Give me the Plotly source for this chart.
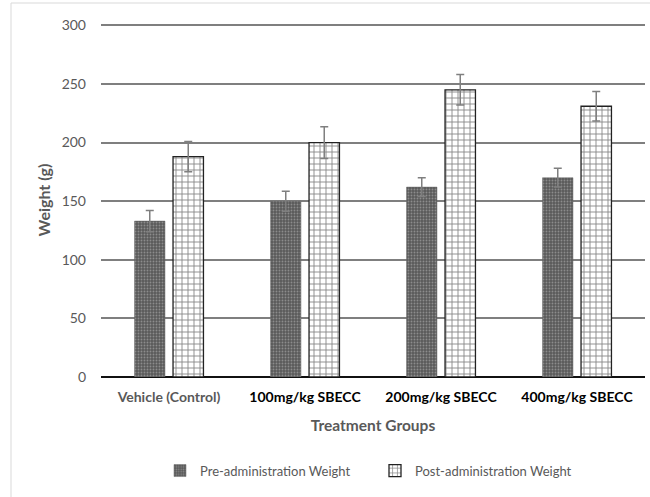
import plotly.graph_objects as go

categories = ["Vehicle (Control)", "100mg/kg SBECC", "200mg/kg SBECC", "400mg/kg SBECC"]
tick_labels = ["<span style='color:#595959'>Vehicle (Control)</span>", "100mg/kg SBECC", "200mg/kg SBECC", "400mg/kg SBECC"]
pre_weight = [133, 150, 162, 170]
pre_err = [9, 8.5, 8, 8]
post_weight = [188, 200, 245, 231]
post_err = [13, 13.5, 13, 12.5]
y_ticks = [0, 50, 100, 150, 200, 250, 300]

FONT = "Lato, Carlito, 'Liberation Sans', sans-serif"

fig = go.Figure()
fig.add_trace(go.Bar(
    name="Pre-administration Weight", x=categories, y=pre_weight,
    error_y=dict(type="data", array=pre_err, color="#7f7f7f", thickness=1.5, width=4),
    marker=dict(color="#666666", line=dict(color="#666666", width=0.5),
                pattern=dict(shape=".", fgcolor="#bdbdbd", bgcolor="#5a5a5a", size=3, solidity=0.3)),
))
fig.add_trace(go.Bar(
    name="Post-administration Weight", x=categories, y=post_weight,
    error_y=dict(type="data", array=post_err, color="#7f7f7f", thickness=1.5, width=4),
    marker=dict(color="white", line=dict(color="#222222", width=1.3),
                pattern=dict(shape="+", fgcolor="#111111", bgcolor="white", size=6, solidity=0.28)),
))

fig.update_layout(
    width=650, height=497,
    margin=dict(l=101, r=5, t=23, b=120),
    paper_bgcolor="white", plot_bgcolor="white",
    barmode="group", bargap=0.434, bargroupgap=0.21,
    font=dict(family=FONT, color="#595959", size=13),
    showlegend=True,
    legend=dict(orientation="h", x=(160 - 101) / 544, xanchor="left", y=-0.222, yanchor="top",
                font=dict(size=13, color="#595959"), itemwidth=30,
                entrywidth=170, entrywidthmode="pixels"),
    xaxis=dict(
        tickmode="array", tickvals=categories, ticktext=tick_labels,
        tickfont=dict(size=14, color="#000000", family=FONT, weight="bold"),
        showline=False, ticks="", showgrid=False, ticklabelstandoff=10,
        automargin=False,
        title=dict(text="<b>Treatment Groups</b>", font=dict(size=15.5, color="#595959"), standoff=16),
    ),
    yaxis=dict(
        range=[0, 302], tickvals=y_ticks, ticks="",
        tickfont=dict(size=14, color="#595959"),
        showgrid=True, gridcolor="#7f7f7f", gridwidth=1.5,
        zeroline=True, zerolinecolor="#111111", zerolinewidth=1.5,
        showline=False, ticklabelstandoff=14, automargin=False,
        title=dict(text="<b>Weight (g)</b>", font=dict(size=16, color="#595959"), standoff=7),
    ),
    shapes=[dict(type="rect", xref="paper", yref="paper",
                 x0=(11 - 101) / 544, x1=1.15,
                 y0=-0.5, y1=1 + 20 / 354,
                 line=dict(color="#d9d9d9", width=1), layer="below")],
)

fig.write_html("out.html", config={"displayModeBar": False},
               post_script="document.body.style.margin='0';")
